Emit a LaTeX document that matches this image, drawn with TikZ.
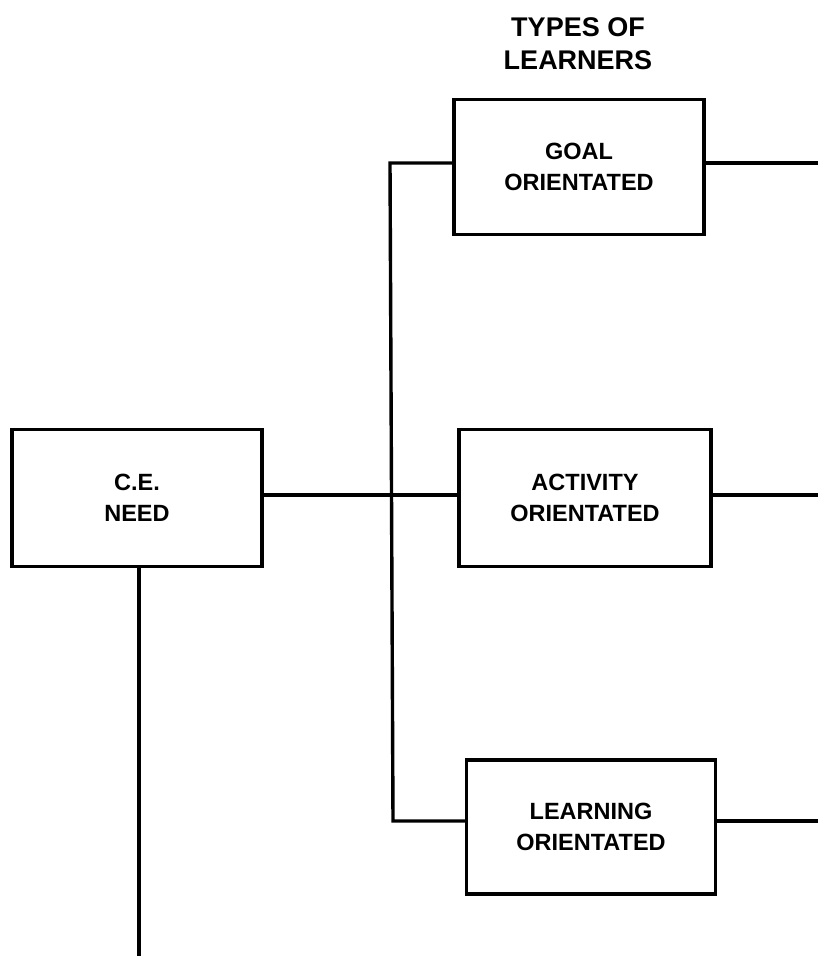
\documentclass[tikz,border=0pt]{standalone}
\usepackage{fontspec}
\setmainfont{Liberation Sans}
\begin{document}
\begin{tikzpicture}[x=1pt,y=-1pt,
  box/.style={draw,line width=3.4pt,rectangle,align=center,inner sep=0pt,
    font=\fontsize{23.5}{31}\selectfont\bfseries},
  conn/.style={line width=3.4pt}]
\useasboundingbox (0,0) rectangle (818,956);
\node[font=\fontsize{27}{33}\selectfont\bfseries,align=center] (title) at (578,44) {TYPES OF\\LEARNERS};
\node[box,minimum width=250pt,minimum height=135pt] (goal) at (579,167) {GOAL\\ORIENTATED};
\node[box,minimum width=252pt,minimum height=137pt] (act) at (585,498) {ACTIVITY\\ORIENTATED};
\node[box,minimum width=249pt,minimum height=134pt] (learn) at (591,827) {LEARNING\\ORIENTATED};
\node[box,minimum width=250pt,minimum height=137pt] (ce) at (137,498) {C.E.\\NEED};
\coordinate (jt) at (390,163);
\coordinate (jb) at (393,821);
\coordinate (jm) at (391.5,495);
\coordinate (r1) at (818,163);
\coordinate (r2) at (818,495);
\coordinate (r3) at (818,821);
\coordinate (bot) at (139,956);
\draw[conn] (goal.west |- jt) -- (jt) -- (jb) -- (learn.west |- jb);
\draw[conn] (ce.east |- jm) -- (act.west |- jm);
\draw[conn] (goal.east |- r1) -- (r1);
\draw[conn] (act.east |- r2) -- (r2);
\draw[conn] (learn.east |- r3) -- (r3);
\draw[conn] (ce.south -| bot) -- (bot);
\end{tikzpicture}
\end{document}
